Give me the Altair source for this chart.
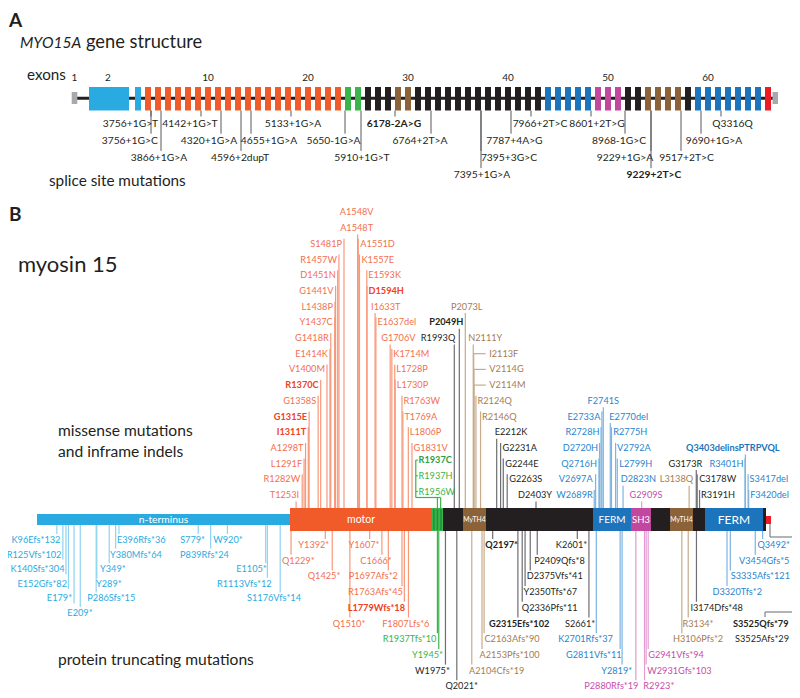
import re
import numpy as np
import pandas as pd
import altair as alt

FONT = "Lato"
LS = 9.2    # mutation label size
SLS = 10.3  # splice label size

# ---------------- colours ----------------
DOM_COL = {"utr": "#a7a9ac", "nterm": "#29abe2", "motor": "#f15a29", "iq": "#39b54a",
           "linker": "#231f20", "myth4": "#8c6239", "ferm": "#1c75bc", "sh3": "#c2479f",
           "end": "#ed1c24"}
LABEL_COL = {"nterm": "#29abe2", "motor": "#f2704f", "iq": "#39b54a", "linker": "#231f20",
             "myth4": "#a67c52", "ferm": "#2a85cc", "sh3": "#c74ea9"}
BOLD_COL = {"motor": "#ef4123", "iq": "#2ea043", "ferm": "#1c75bc"}
LINE_COL = {"nterm": "#8ed3f2", "motor": "#f79879", "iq": "#39b54a", "linker": "#6d6e71",
            "myth4": "#c7ab8b", "ferm": "#7db3e0", "sh3": "#e39bd3"}

# ---------------- panel A: MYO15A gene structure ----------------
EXON_KIND = (["utr", "nterm", "nterm"] + ["motor"] * 20 + ["iq"] * 2 + ["linker"] * 3 +
             ["myth4"] * 2 + ["linker"] * 13 + ["ferm"] * 5 + ["sh3"] * 3 + ["linker"] * 2 +
             ["myth4"] * 4 + ["linker"] + ["ferm"] * 7 + ["end"])
EXON_TICKS = [1, 2, 10, 20, 30, 40, 50, 60]

SPLICE_NAMES = ["3756+1G>T", "3756+1G>C", "3866+1G>A", "4142+1G>T", "4320+1G>A", "4596+2dupT",
                "4655+1G>A", "5133+1G>A", "5650-1G>A", "5910+1G>T", "6178-2A>G", "6764+2T>A",
                "7395+1G>A", "7395+3G>C", "7787+4A>G", "7966+2T>C", "8601+2T>G", "8968-1G>C",
                "9229+1G>A", "9229+2T>C", "9517+2T>C", "9690+1G>A", "Q3316Q"]
SPLICE_EXON = [4, 4, 5, 9, 11, 13, 14, 18, 24, 25, 29, 32, 37, 37, 40, 42, 48, 52, 54, 54, 57, 59, 61]
SPLICE_SIDE = ["+", "+", "+", "+", "+", "+", "+", "+", "-", "+", "-", "+", "+", "+", "+", "+",
               "+", "-", "+", "+", "+", "+", "+"]
# label layout (row below the gene, horizontal shift of the text in px)
SPLICE_ROW = [0, 1, 2, 0, 1, 2, 1, 0, 1, 2, 0, 1, 3, 2, 1, 0, 0, 1, 2, 3, 2, 1, 0]
SPLICE_DX = [-20.5, -21.2, -2, -11, -12, -1, 18, 2, -11.5, 1, -1, -11, 1, 28, 3.5, 9, 6, -6,
             -26, 3, 5.5, 13, 11.5]

# ---------------- panel B: myosin 15 protein ----------------
DOMAIN_KIND = ["nterm", "motor", "iq", "linker", "myth4", "linker", "ferm", "sh3", "linker",
               "myth4", "linker", "ferm", "linker", "end"]
DOMAIN_NAME = ["n-terminus", "motor", "", "", "MyTH4", "", "FERM", "SH3", "", "MyTH4", "", "FERM", "", ""]
DOMAIN_START = [0, 1224, 1905, 1970, 2062, 2172, 2682, 2856, 2955, 3054, 3155, 3221, 3494, 3505]
DOMAIN_END = [1224, 1905, 1970, 2062, 2172, 2682, 2856, 2955, 3054, 3155, 3221, 3494, 3505, 3530]
DOMAIN_FONT = [10.3, 10.5, 0, 0, 6.8, 0, 10, 9.5, 0, 6.8, 0, 12, 0, 0]

# figure scale of the schematic (amino acid -> horizontal position of the drawing)
AA_KNOTS = [0, 1105, 1224, 1481, 1594, 1763, 1831, 1905, 1970, 1993, 2049, 2062, 2172, 2212,
            2403, 2601, 2682, 2741, 2856, 2955, 3054, 3155, 3221, 3401, 3494, 3505, 3530]
PX_KNOTS = [37, 265.7, 290, 344, 367, 402, 412, 432, 443, 454.3, 459.3, 463, 486, 496.7,
            536, 577.3, 593, 603.3, 631, 651, 670, 693, 705, 745, 763, 766, 771]

MISSENSE = {
    "motor": ["T1253I", "R1282W", "L1291F", "A1298T", "I1311T", "G1315E", "G1358S", "R1370C",
              "V1400M", "E1414K", "G1418R", "Y1437C", "L1438P", "G1441V", "D1451N", "R1457W",
              "S1481P", "A1548T", "A1548V", "A1551D", "K1557E", "E1593K", "D1594H", "I1633T",
              "E1637del", "G1706V", "K1714M", "L1728P", "L1730P", "R1763W", "T1769A", "L1806P",
              "G1831V"],
    "iq": ["R1937C", "R1937H", "R1956W"],
    "linker": ["R1993Q", "P2049H", "E2212K", "G2231A", "G2244E", "G2263S", "D2403Y", "G3173R",
               "C3178W", "R3191H"],
    "myth4": ["P2073L", "N2111Y", "I2113F", "V2114G", "V2114M", "R2124Q", "R2146Q", "L3138Q"],
    "ferm": ["W2689R", "V2697A", "Q2716H", "D2720H", "R2728H", "E2733A", "F2741S", "E2770del",
             "R2775H", "V2792A", "L2799H", "D2823N", "R3401H", "Q3403delinsPTRPVQL", "S3417del",
             "F3420del"],
    "sh3": ["G2909S"],
}
TRUNCATING = {
    "nterm": ["K96Efs*132", "R125Vfs*102", "K140Sfs*304", "E152Gfs*82", "E179*", "E209*",
              "P286Sfs*15", "Y289*", "Y349*", "Y380Mfs*64", "E396Rfs*36", "S779*", "P839Rfs*24",
              "W920*", "E1105*", "R1113Vfs*12", "S1176Vfs*14"],
    "motor": ["Q1229*", "Y1392*", "Q1425*", "Q1510*", "Y1607*", "C1666*", "P1697Afs*2",
              "R1763Afs*45", "L1779Wfs*18", "F1807Lfs*6"],
    "iq": ["R1937Tfs*10", "Y1945*"],
    "linker": ["W1975*", "Q2021*", "Q2197*", "G2315Efs*102", "Q2336Pfs*11", "Y2350Tfs*67",
               "D2375Vfs*41", "P2409Qfs*8", "K2601*", "S2661*", "I3174Dfs*48", "S3525Qfs*79",
               "S3525Afs*29"],
    "myth4": ["A2104Cfs*19", "A2153Pfs*100", "C2163Afs*90", "H3106Pfs*2", "R3134*"],
    "ferm": ["K2701Rfs*37", "G2811Vfs*11", "Y2819*", "D3320Tfs*2", "S3335Afs*121", "V3454Gfs*5",
             "Q3492*"],
    "sh3": ["P2880Rfs*19", "R2923*", "W2931Gfs*103", "G2941Vfs*94"],
}
BOLD = {"I1311T", "G1315E", "R1370C", "D1594H", "R1937C", "P2049H", "Q3403delinsPTRPVQL",
        "6178-2A>G", "9229+2T>C", "L1779Wfs*18", "Q2197*", "G2315Efs*102", "S3525Qfs*79"}

# label layout: name -> (row, leader style, text shift px)
LAYOUT = {
    "T1253I": (0, "r", 3), "R1282W": (1, "L", -2), "L1291F": (2, "L", -2), "A1298T": (3, "L", -2),
    "I1311T": (4, "L", -2), "G1315E": (5, "L", -2), "G1358S": (6, "L", -2), "R1370C": (7, "L", -2),
    "V1400M": (8, "L", -2), "E1414K": (9, "L", -2), "G1418R": (10, "L", -2), "Y1437C": (11, "L", -2),
    "L1438P": (12, "L", -2), "G1441V": (13, "L", -2), "D1451N": (14, "L", -2), "R1457W": (15, "L", -2),
    "S1481P": (16, "L", -2), "A1548T": (17, "C", -1), "A1548V": (18, "N", -1),
    "A1551D": (16, "R", 2), "K1557E": (15, "R", 2), "E1593K": (14, "R", 1.5), "D1594H": (13, "R", 1.5),
    "I1633T": (12, "l", -4), "E1637del": (11, "R", 1.5), "G1706V": (10, "l", -9), "K1714M": (9, "R", 1.5),
    "L1728P": (8, "R", 1.5), "L1730P": (7, "R", 1.5), "R1763W": (6, "R", 1.5), "T1769A": (5, "R", 1.5),
    "L1806P": (4, "R", 1.5), "G1831V": (3, "R", 1.5),
    "R1937C": (2, "G", 0), "R1937H": (1, "G", 0), "R1956W": (0, "G", 0),
    "R1993Q": (10, "r", 1), "P2049H": (11, "r", 4), "E2212K": (4, "l", -2), "G2231A": (3, "R", 2),
    "G2244E": (2, "R", 2), "G2263S": (1, "R", 2), "D2403Y": (0, "C", -1), "G3173R": (2, "r", 6),
    "C3178W": (1, "R", 2), "R3191H": (0, "R", 1.5),
    "P2073L": (12, "C", 1.5), "N2111Y": (10, "l", -5), "I2113F": (9, "T", 0), "V2114G": (8, "T", 0),
    "V2114M": (7, "T", 0), "R2124Q": (6, "R", 1.5), "R2146Q": (5, "R", 1.5), "L3138Q": (1, "r", 4),
    "W2689R": (0, "L", -1.5), "V2697A": (1, "L", -3), "Q2716H": (2, "L", -2), "D2720H": (3, "L", -1.5),
    "R2728H": (4, "L", -1.5), "E2733A": (5, "L", -1.5), "F2741S": (6, "C", 0), "E2770del": (5, "l", -1),
    "R2775H": (4, "R", 1.8), "V2792A": (3, "R", 1.5), "L2799H": (2, "R", 2), "D2823N": (1, "l", -2.4),
    "R3401H": (2, "L", -1.5), "Q3403delinsPTRPVQL": (3, "C", -12.6), "S3417del": (1, "R", 1.5),
    "F3420del": (0, "R", 1.5), "G2909S": (0, "C", 4.3),
    "K96Efs*132": (0, "r", 3.5), "R125Vfs*102": (1, "L", -1.5), "K140Sfs*304": (2, "L", -1.5),
    "E152Gfs*82": (3, "L", -1.5), "E179*": (4, "L", -2), "E209*": (5, "C", -0.3),
    "P286Sfs*15": (4, "l", -8.9), "Y289*": (3, "l", -0.8), "Y349*": (2, "l", -9.2),
    "Y380Mfs*64": (1, "l", -5.6), "E396Rfs*36": (0, "l", -2), "S779*": (0, "r", 6.8),
    "P839Rfs*24": (1, "l", -30.6), "W920*": (0, "C", 0.5), "E1105*": (2, "r", 1),
    "R1113Vfs*12": (3, "r", 4.3), "S1176Vfs*14": (4, "C", -6.2),
    "Q1229*": (1, "C", 7.2), "Y1392*": (0, "C", -11.5), "Q1425*": (2, "C", -8.2), "Q1510*": (5, "C", -0.9),
    "Y1607*": (0, "C", -5.7), "C1666*": (1, "C", -5.9), "P1697Afs*2": (2, "C", -15),
    "R1763Afs*45": (3, "C", -26.5), "L1779Wfs*18": (4, "C", -28), "F1807Lfs*6": (5, "C", -2.7),
    "R1937Tfs*10": (6, "r", -1), "Y1945*": (7, "C", -11.3),
    "W1975*": (8, "C", -13), "Q2021*": (9, "C", 4.9), "Q2197*": (0, "C", 9), "G2315Efs*102": (5, "C", 1.3),
    "Q2336Pfs*11": (4, "C", 27.5), "Y2350Tfs*67": (3, "C", 25.2), "D2375Vfs*41": (2, "C", 24.5),
    "P2409Qfs*8": (1, "C", 22.2), "K2601*": (0, "C", -5.8), "S2661*": (5, "C", -8.9),
    "I3174Dfs*48": (4, "C", 20.2), "S3525Qfs*79": (5, "N", -9.3), "S3525Afs*29": (6, "N", -8),
    "A2104Cfs*19": (8, "C", 24.9), "A2153Pfs*100": (7, "C", 27.5), "C2163Afs*90": (6, "C", 27.9),
    "H3106Pfs*2": (6, "C", 16.2), "R3134*": (5, "C", 9.8),
    "K2701Rfs*37": (6, "C", -10.8), "G2811Vfs*11": (7, "r", 1.5), "Y2819*": (8, "C", -5.4),
    "D3320Tfs*2": (3, "C", 10.2), "S3335Afs*121": (2, "C", 30), "V3454Gfs*5": (1, "C", 8.9),
    "Q3492*": (0, "C", 11.1),
    "P2880Rfs*19": (9, "r", 2.5), "R2923*": (9, "l", -1.2), "W2931Gfs*103": (8, "l", 1.1),
    "G2941Vfs*94": (7, "l", 0),
}

# ---------------- vertical layout (figure units, top = 8) ----------------
GENE_Y, EXON_TOP, EXON_BOT = 98.3, 87, 110.5
SPL_Y0, SPL_DY = 123.5, 17.2
BAR_Y, BAR_TOP, BAR_BOT = 519.5, 508, 531
MIS_Y0, MIS_DY = 495, 15.7
TR_Y0, TR_DY = 545, 15.7
NT_Y0, NT_DY = 540, 14.6
GREEN_BRACKET_AA = 1845


def aa2px(a):
    if a > AA_KNOTS[-1]:
        s = (PX_KNOTS[-1] - PX_KNOTS[-2]) / (AA_KNOTS[-1] - AA_KNOTS[-2])
        return PX_KNOTS[-1] + (a - AA_KNOTS[-1]) * s
    return float(np.interp(a, AA_KNOTS, PX_KNOTS))


def px2aa(p):
    if p > PX_KNOTS[-1]:
        s = (AA_KNOTS[-1] - AA_KNOTS[-2]) / (PX_KNOTS[-1] - PX_KNOTS[-2])
        return AA_KNOTS[-1] + (p - PX_KNOTS[-1]) * s
    return float(np.interp(p, PX_KNOTS, AA_KNOTS))


YS = alt.Scale(domain=[8, 690], range=[0, 682], nice=False, zero=False)
AS = alt.Scale(domain=AA_KNOTS, range=[p - 8 for p in PX_KNOTS], nice=False, zero=False)
GS = alt.Scale(domain=[0, 66], range=[100, 760], nice=False, zero=False)

# ---------- gene tables ----------
ex_rows = []
for i, kind in enumerate(EXON_KIND):
    n = i + 1
    if n == 1:
        s, e = -3.63, -3.07
    elif n == 2:
        s, e = -1.9, 2.1
    else:
        s, e = n - 0.3, n + 0.3
    small = kind == "utr"
    ex_rows.append(dict(x=s, x2=e, y=92 if small else EXON_TOP, y2=104 if small else EXON_BOT,
                        color=DOM_COL[kind]))
ex_rows.append(dict(x=66.45, x2=67.0, y=92, y2=104, color=DOM_COL["utr"]))
exons = pd.DataFrame(ex_rows)
backbone = pd.DataFrame([dict(x=-3.4, x2=66.6, y=GENE_Y)])
tick_pos = {1: -3.35, 2: 0.0}
exon_ticks = pd.DataFrame([dict(x=tick_pos.get(n, n), y=78, label=str(n)) for n in EXON_TICKS])

spl_lines, spl_text = [], []
for nm, ex, sd, row, dx in zip(SPLICE_NAMES, SPLICE_EXON, SPLICE_SIDE, SPLICE_ROW, SPLICE_DX):
    jx = ex + (0.3 if sd == "+" else -0.3)
    ry = SPL_Y0 + SPL_DY * row
    spl_lines.append(dict(x=jx, y=EXON_BOT, y2=ry - 7))
    spl_text.append(dict(x=jx + dx / 10.0, y=ry, label=nm, bold=nm in BOLD, align="center"))
spl_lines = pd.DataFrame(spl_lines)
spl_text = pd.DataFrame(spl_text)

# ---------- protein tables ----------
dom = pd.DataFrame(dict(x=DOMAIN_START, x2=DOMAIN_END, kind=DOMAIN_KIND, name=DOMAIN_NAME,
                        size=DOMAIN_FONT))
dom["color"] = dom["kind"].map(DOM_COL)
dom["y"] = [514 if k == "nterm" else (516 if k == "end" else BAR_TOP) for k in DOMAIN_KIND]
dom["y2"] = [525 if k == "nterm" else (524 if k == "end" else BAR_BOT) for k in DOMAIN_KIND]
dom["cx"] = [px2aa((aa2px(a) + aa2px(b)) / 2) for a, b in zip(DOMAIN_START, DOMAIN_END)]
dom_lab = dom[dom["name"] != ""].copy()
dom_lab["y"] = BAR_Y

texts, vlines, hlines = [], [], []
ALIGN = {"L": "right", "r": "right", "R": "left", "l": "left", "C": "center", "N": "center",
         "T": "left", "G": "left"}


def add(names, kind, above):
    for nm in names:
        row, typ, dx = LAYOUT[nm]
        aa = int(re.search(r"\d+", nm).group())
        lp = aa2px(aa)
        bold = nm in BOLD
        col = BOLD_COL.get(kind, LABEL_COL[kind]) if bold else LABEL_COL[kind]
        lcol = LINE_COL[kind]
        if above:
            ry = MIS_Y0 - MIS_DY * row
            near, far = ry + 6.5, ry - 5
        else:
            b0, st = (NT_Y0, NT_DY) if kind == "nterm" else (TR_Y0, TR_DY)
            ry = b0 + st * row
            near, far = ry - 6, ry + 5
        tx = lp + dx
        if typ in ("L", "R"):
            vlines.append(dict(x=aa, y=BAR_Y, y2=far, color=lcol))
        elif typ in ("l", "r", "C"):
            vlines.append(dict(x=aa, y=BAR_Y, y2=near, color=lcol))
        elif typ == "T":
            vlines.append(dict(x=aa, y=BAR_Y, y2=ry, color=lcol))
            hlines.append(dict(x=aa, x2=px2aa(lp + 12), y=ry, color=lcol))
            tx = lp + 15.5
        elif typ == "G":
            bx = aa2px(GREEN_BRACKET_AA)
            ry -= 3.5
            tx = bx + 2.7
            hlines.append(dict(x=GREEN_BRACKET_AA, x2=px2aa(bx + 2), y=ry, color=lcol))
        texts.append(dict(x=px2aa(tx), y=ry, label=nm, color=col, align=ALIGN[typ], bold=bold))


for k, v in MISSENSE.items():
    add(v, k, True)
for k, v in TRUNCATING.items():
    add(v, k, False)

# green bracket joining the IQ missense labels
g_top = MIS_Y0 - MIS_DY * 2 - 3.5
vlines.append(dict(x=GREEN_BRACKET_AA, y=g_top, y2=497.5, color=LINE_COL["iq"]))
hlines.append(dict(x=GREEN_BRACKET_AA, x2=1956, y=497.5, color=LINE_COL["iq"]))
for a in (1937, 1956):
    vlines.append(dict(x=a, y=497.5, y2=BAR_Y, color=LINE_COL["iq"]))
# leader of the two S3525 labels around the right end
RX = px2aa(796)
LX = px2aa(765)
vlines.append(dict(x=3525, y=BAR_Y, y2=537, color="#808285"))
hlines.append(dict(x=3525, x2=RX, y=537, color="#808285"))
vlines.append(dict(x=RX, y=537, y2=612, color="#808285"))
hlines.append(dict(x=LX, x2=RX, y=612, color="#808285"))
vlines.append(dict(x=LX, y=612, y2=617, color="#808285"))

texts = pd.DataFrame(texts)
vlines = pd.DataFrame(vlines)
hlines = pd.DataFrame(hlines)
iq_wave = pd.DataFrame(dict(x=[1916, 1937, 1958], y=[BAR_TOP + 1] * 3, y2=[BAR_BOT - 1] * 3))


def X(field, scale):
    return alt.X(field, type="quantitative", scale=scale, axis=None)


def Y(field):
    return alt.Y(field, type="quantitative", scale=YS, axis=None)


def text_layers(df, scale, size, color=None):
    out = []
    for (al, bd), sub in df.groupby(["align", "bold"]):
        enc = dict(x=X("x", scale), y=Y("y"), text=alt.Text("label:N"))
        enc["color"] = alt.value(color) if color else alt.Color("color:N", scale=None)
        out.append(alt.Chart(sub).mark_text(align=al, baseline="middle", font=FONT, fontSize=size,
                                            fontWeight="bold" if bd else "normal").encode(**enc))
    return out


layers = []
# gene structure
layers.append(alt.Chart(backbone).mark_rule(strokeWidth=3, color="#231f20").encode(
    x=X("x", GS), x2="x2:Q", y=Y("y")))
layers.append(alt.Chart(exons).mark_rect().encode(
    x=X("x", GS), x2="x2:Q", y=Y("y"), y2="y2:Q", color=alt.Color("color:N", scale=None)))
layers.append(alt.Chart(exon_ticks).mark_text(font=FONT, fontSize=10, color="#231f20",
                                              baseline="middle").encode(
    x=X("x", GS), y=Y("y"), text="label:N"))
layers.append(alt.Chart(spl_lines).mark_rule(strokeWidth=1, color="#58595b").encode(
    x=X("x", GS), y=Y("y"), y2="y2:Q"))
layers += text_layers(spl_text, GS, SLS, color="#231f20")

# protein
layers.append(alt.Chart(vlines).mark_rule(strokeWidth=1.2).encode(
    x=X("x", AS), y=Y("y"), y2="y2:Q", color=alt.Color("color:N", scale=None)))
layers.append(alt.Chart(hlines).mark_rule(strokeWidth=1.2).encode(
    x=X("x", AS), x2="x2:Q", y=Y("y"), color=alt.Color("color:N", scale=None)))
layers.append(alt.Chart(dom).mark_rect().encode(
    x=X("x", AS), x2="x2:Q", y=Y("y"), y2="y2:Q", color=alt.Color("color:N", scale=None)))
layers.append(alt.Chart(iq_wave).mark_rule(strokeWidth=1.5, color="#1f8f3a").encode(
    x=X("x", AS), y=Y("y"), y2="y2:Q"))
for sz, sub in dom_lab.groupby("size"):
    layers.append(alt.Chart(sub).mark_text(font=FONT, fontSize=float(sz), color="white",
                                           baseline="middle").encode(
        x=X("cx", AS), y=Y("y"), text="name:N"))
layers += text_layers(texts, AS, LS)


# titles and captions
def caption(txt, x, y, size, bold=False, italic=False):
    return alt.Chart(pd.DataFrame({"t": [txt]})).mark_text(
        align="left", baseline="middle", font=FONT, fontSize=size, color="#231f20",
        fontWeight="bold" if bold else "normal", fontStyle="italic" if italic else "normal"
    ).encode(x=alt.value(x - 8), y=alt.value(y - 8), text="t:N")


layers += [
    caption("A", 9, 21, 19, bold=True),
    caption("MYO15A", 20, 43, 15.5, italic=True),
    caption("gene structure", 86, 43, 18.3),
    caption("exons", 27, 75, 15.2),
    caption("splice site mutations", 49, 181, 15.3),
    caption("B", 9, 215, 19, bold=True),
    caption("myosin 15", 18, 265, 22),
    caption("missense mutations", 58, 431, 15.6),
    caption("and inframe indels", 58, 452, 15.6),
    caption("protein truncating mutations", 58, 660, 15.6),
]

chart = alt.layer(*layers).resolve_scale(x="independent").properties(
    width=784, height=682, padding=0, autosize=alt.AutoSizeParams(type="none")
).configure_view(stroke=None)

chart.save("out.html", embed_options={"renderer": "svg", "actions": False})
